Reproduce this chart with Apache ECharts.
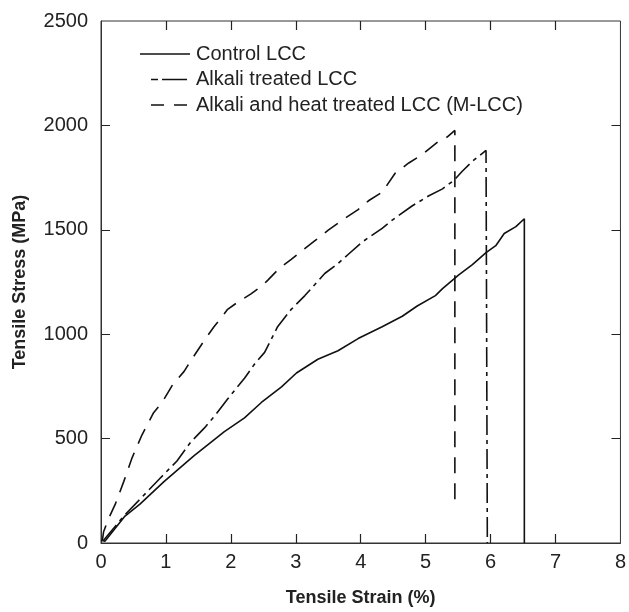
<!DOCTYPE html>
<html>
<head>
<meta charset="utf-8">
<script src="https://cdn.jsdelivr.net/npm/echarts@6/dist/echarts.min.js"></script>
<style>
html,body{margin:0;padding:0;background:#fff;}
#chart{width:629px;height:612px;}
</style>
</head>
<body>
<div id="chart"></div>
<script>
// ---- data ----
var seriesNames = ['Control LCC', 'Alkali treated LCC', 'Alkali and heat treated LCC (M-LCC)'];
var xTicks = [0, 1, 2, 3, 4, 5, 6, 7, 8];
var yTicks = [0, 500, 1000, 1500, 2000, 2500];

var controlStrain = [0, 0.06, 0.37, 0.60, 0.97, 1.43, 1.90, 2.21, 2.47, 2.78, 3.01, 3.34, 3.65, 3.96, 4.33, 4.64, 4.87, 5.15, 5.26, 5.51, 5.72, 5.93, 6.08, 6.21, 6.39, 6.52, 6.52];
var controlStress = [13, 8, 129, 186, 294, 417, 533, 599, 673, 748, 814, 880, 921, 979, 1036, 1086, 1135, 1185, 1218, 1284, 1333, 1391, 1424, 1482, 1515, 1553, 0];

var alkaliStrain = [0.04, 0.35, 0.58, 0.73, 0.91, 1.17, 1.38, 1.59, 1.77, 1.95, 2.21, 2.36, 2.52, 2.72, 2.93, 3.14, 3.45, 3.63, 3.81, 4.02, 4.33, 4.48, 4.79, 5.05, 5.26, 5.44, 5.56, 5.72, 5.93, 5.95];
var alkaliStress = [13, 129, 203, 252, 310, 393, 483, 550, 616, 690, 789, 855, 913, 1036, 1119, 1185, 1292, 1333, 1383, 1441, 1507, 1545, 1614, 1663, 1696, 1738, 1779, 1828, 1880, 0];

var mlccStrain = [0.02, 0.04, 0.11, 0.22, 0.35, 0.48, 0.63, 0.81, 0.94, 1.10, 1.28, 1.38, 1.59, 1.74, 1.87, 1.95, 2.10, 2.31, 2.49, 2.57, 2.75, 2.93, 3.09, 3.30, 3.50, 3.76, 3.96, 4.12, 4.33, 4.53, 4.74, 4.95, 5.21, 5.33, 5.45, 5.45];
var mlccStress = [10, 54, 112, 186, 294, 409, 517, 624, 673, 756, 822, 871, 970, 1036, 1086, 1119, 1152, 1193, 1234, 1259, 1317, 1358, 1399, 1449, 1498, 1556, 1597, 1639, 1680, 1771, 1820, 1861, 1927, 1944, 1976, 190];

function zip(a, b) { return a.map(function (v, i) { return [v, b[i]]; }); }

var chart = echarts.init(document.getElementById('chart'), null, {renderer: 'canvas'});
var FONT = 'Liberation Sans, Arial, Helvetica, sans-serif';
var axisColor = '#333';
var textColor = '#222';
var styles = ['solid', [20, 5, 4, 5], [16, 10]];
var legendDash = [null, [7, 4, 60, 0], [13, 10]];
var xMin = xTicks[0], xMax = xTicks[xTicks.length - 1];
var yMin = yTicks[0], yMax = yTicks[yTicks.length - 1];
// tick length (about 9 px) expressed in axis units of the 523 x 522 px plot
var tickLenX = (xMax - xMin) * 9 / 523;
var tickLenY = (yMax - yMin) * 9 / 522;

function mkLine(i, data) {
  return {
    name: seriesNames[i], type: 'line', data: data, symbol: 'none', showSymbol: false,
    animation: false, clip: true, z: 3,
    lineStyle: {color: '#111', width: 1.6, type: styles[i]},
    itemStyle: {color: '#111'}
  };
}

// inward tick marks on all four frame edges, one short segment per tick value
var tickSegments = [];
xTicks.slice(1, -1).forEach(function (v) {
  tickSegments.push({coords: [[v, yMin], [v, yMin + tickLenY]]});
  tickSegments.push({coords: [[v, yMax], [v, yMax - tickLenY]]});
});
yTicks.slice(1, -1).forEach(function (v) {
  tickSegments.push({coords: [[xMin, v], [xMin + tickLenX, v]]});
  tickSegments.push({coords: [[xMax, v], [xMax - tickLenX, v]]});
});

var legendGraphics = [];
var legendTop = 54, legendStep = 25.5;
var legendLineX = [[140, 190], [151, 187], [151, 187]];
seriesNames.forEach(function (n, i) {
  var y = legendTop + i * legendStep;
  legendGraphics.push({
    type: 'line', shape: {x1: legendLineX[i][0], y1: y, x2: legendLineX[i][1], y2: y},
    style: {stroke: '#111', lineWidth: 1.6, lineDash: legendDash[i]}
  });
  legendGraphics.push({
    type: 'text', x: 196, y: y,
    style: {text: n, font: '20px ' + FONT, fill: textColor, verticalAlign: 'middle'}
  });
});

var option = {
  animation: false,
  backgroundColor: '#fff',
  grid: {left: 101, right: 5, top: 21, bottom: 69, show: true, borderColor: axisColor, borderWidth: 1, backgroundColor: 'transparent'},
  graphic: {elements: legendGraphics},
  xAxis: {
    type: 'value', min: xMin, max: xMax, interval: 1,
    name: 'Tensile Strain (%)', nameLocation: 'middle', nameGap: 46,
    nameTextStyle: {fontFamily: FONT, fontSize: 18, fontWeight: 'bold', color: textColor},
    axisLine: {show: true, onZero: false, lineStyle: {color: axisColor, width: 1}},
    axisTick: {show: false},
    axisLabel: {fontFamily: FONT, fontSize: 20, color: textColor, margin: 9, formatter: function (v) { return String(v); }},
    splitLine: {show: false}
  },
  yAxis: {
    type: 'value', min: yMin, max: yMax, interval: 500,
    name: 'Tensile Stress (MPa)', nameLocation: 'middle', nameGap: 72,
    nameTextStyle: {fontFamily: FONT, fontSize: 18, fontWeight: 'bold', color: textColor},
    axisLine: {show: true, onZero: false, lineStyle: {color: axisColor, width: 1}},
    axisTick: {show: false},
    axisLabel: {fontFamily: FONT, fontSize: 20, color: textColor, margin: 13, formatter: function (v) { return String(v); }},
    splitLine: {show: false}
  },
  series: [
    mkLine(0, zip(controlStrain, controlStress)),
    mkLine(1, zip(alkaliStrain, alkaliStress)),
    mkLine(2, zip(mlccStrain, mlccStress)),
    {
      type: 'lines', coordinateSystem: 'cartesian2d', silent: true, animation: false, z: 4,
      polyline: false, symbol: 'none',
      lineStyle: {color: '#222', width: 1.2, opacity: 1, curveness: 0},
      data: tickSegments
    }
  ]
};
chart.setOption(option);
</script>
</body>
</html>
